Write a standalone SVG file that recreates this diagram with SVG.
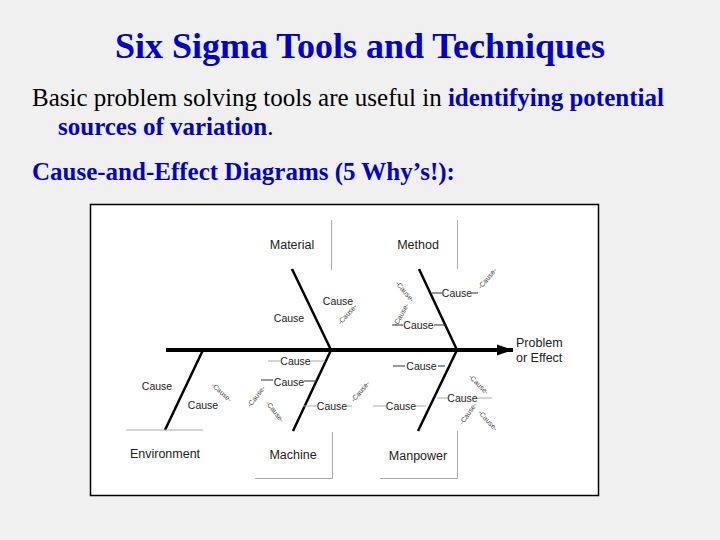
<svg xmlns="http://www.w3.org/2000/svg" width="720" height="540" viewBox="0 0 720 540">
<style>
.title{font-family:"Liberation Serif",serif;font-weight:bold;fill:#0000cc}
.body{font-family:"Liberation Serif",serif;font-size:25px;fill:#000}
.blue{font-weight:bold;fill:#0000cc}
.lbl{font-family:"Liberation Sans",Arial,sans-serif;font-size:12.5px;fill:#222}
.c{font-family:"Liberation Sans",Arial,sans-serif;font-size:10.5px;fill:#222;text-anchor:middle}
.s{font-family:"Liberation Sans",Arial,sans-serif;font-size:7px;fill:#444;text-anchor:middle}
.bone{stroke:#000;stroke-width:2.5;fill:none}
.g{stroke:#aaa;stroke-width:1;fill:none}
.k{stroke:#333;stroke-width:1;fill:none}
</style>
<defs>
<marker id="ah" markerUnits="userSpaceOnUse" markerWidth="18" markerHeight="12" refX="16" refY="6" orient="auto">
<path d="M0,0.5 L16,6 L0,11.5 Z" fill="#000"/>
</marker>
</defs>
<rect width="720" height="540" fill="#f0f0f0"/>
<g id="heading">
<text class="title" x="360" y="58" font-size="36" text-anchor="middle">Six Sigma Tools and Techniques</text>
<text class="body" x="32" y="106">Basic problem solving tools are useful in <tspan class="blue">identifying potential</tspan></text>
<text class="body" x="58" y="135"><tspan class="blue">sources of variation</tspan>.</text>
<text class="body blue" x="32" y="180">Cause-and-Effect Diagrams (5 Why’s!):</text>
</g>
<rect x="90.5" y="204.5" width="508" height="291" fill="#fff" stroke="#000" stroke-width="1.5"/>
<g id="connectors">
<line x1="166" y1="350" x2="513" y2="350" stroke="#000" stroke-width="4" marker-end="url(#ah)"/>
</g>
<g id="effect">
<text class="lbl" x="516" y="347">Problem</text>
<text class="lbl" x="516" y="362">or Effect</text>
</g>
<g id="material">
<line class="g" x1="331.5" y1="220" x2="331.5" y2="270"/>
<text class="lbl" x="292" y="249" text-anchor="middle">Material</text>
<line class="bone" x1="292" y1="269" x2="331" y2="350"/>
<text class="c" x="289" y="322">Cause</text>
<text class="c" x="338" y="305">Cause</text>
<text class="s" transform="translate(349,316) rotate(-48)">-Cause-</text>
</g>
<g id="method">
<line class="g" x1="457.5" y1="220" x2="457.5" y2="269"/>
<text class="lbl" x="418" y="249" text-anchor="middle">Method</text>
<line class="bone" x1="419" y1="269" x2="457" y2="350"/>
<line class="k" x1="432" y1="293" x2="442" y2="293"/>
<text class="c" x="457" y="297">Cause</text>
<line class="k" x1="472" y1="293" x2="478" y2="293"/>
<text class="s" transform="translate(489,280) rotate(-50)">-Cause-</text>
<line class="k" x1="434" y1="325" x2="447" y2="325"/>
<text class="c" x="418.5" y="329">Cause</text>
<line class="k" x1="392" y1="325" x2="403" y2="325"/>
<text class="s" transform="translate(403,316) rotate(-60)">-Cause-</text>
<text class="s" transform="translate(403,293) rotate(50)">-Cause-</text>
</g>
<g id="environment">
<line class="bone" x1="203" y1="350" x2="165" y2="430"/>
<line class="g" x1="126" y1="430" x2="203" y2="430"/>
<text class="lbl" x="165" y="458" text-anchor="middle">Environment</text>
<text class="c" x="157" y="390">Cause</text>
<text class="c" x="203" y="409">Cause</text>
<text class="s" transform="translate(220,394) rotate(42)">-Cause-</text>
</g>
<g id="machine">
<line class="bone" x1="331" y1="350" x2="293" y2="431"/>
<path class="g" d="M332.5,432 V478.5 H255"/>
<text class="lbl" x="293" y="459" text-anchor="middle">Machine</text>
<line class="g" x1="268" y1="361" x2="280" y2="361"/>
<text class="c" x="295.5" y="365" fill="#555">Cause</text>
<line class="g" x1="311" y1="361" x2="325" y2="361"/>
<line class="k" x1="261" y1="380" x2="273" y2="380"/>
<text class="c" x="289" y="386">Cause</text>
<line class="k" x1="304" y1="381" x2="316" y2="381"/>
<text class="s" transform="translate(258,398) rotate(-52)">-Cause-</text>
<text class="s" transform="translate(273,413) rotate(52)">-Cause-</text>
<line class="g" x1="303" y1="406" x2="317" y2="406"/>
<text class="c" x="332" y="410">Cause</text>
<line class="g" x1="347" y1="406" x2="352" y2="406"/>
<text class="s" transform="translate(362,393) rotate(-50)">-Cause-</text>
</g>
<g id="manpower">
<line class="bone" x1="457" y1="350" x2="418" y2="431"/>
<path class="g" d="M457.5,431 V478.5 H380"/>
<text class="lbl" x="418" y="460" text-anchor="middle">Manpower</text>
<line class="k" x1="393" y1="366" x2="405" y2="366"/>
<text class="c" x="421.5" y="370">Cause</text>
<line class="k" x1="438" y1="366" x2="445" y2="366"/>
<line class="g" x1="373" y1="406" x2="386" y2="406"/>
<text class="c" x="401" y="410">Cause</text>
<line class="g" x1="416" y1="406" x2="426" y2="406"/>
<line class="g" x1="437" y1="398" x2="448" y2="398"/>
<text class="c" x="462.5" y="402">Cause</text>
<line class="g" x1="477" y1="398" x2="492" y2="398"/>
<text class="s" transform="translate(477,386) rotate(45)">-Cause-</text>
<text class="s" transform="translate(470,415) rotate(-55)">-Cause-</text>
<text class="s" transform="translate(486,422) rotate(48)">-Cause-</text>
</g>
</svg>
